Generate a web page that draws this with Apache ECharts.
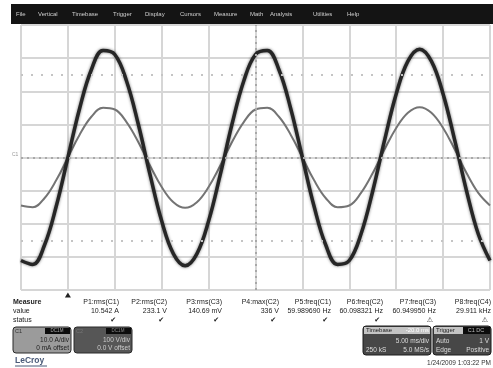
<!DOCTYPE html>
<html>
<head>
<meta charset="utf-8">
<script src="https://cdn.jsdelivr.net/npm/echarts@6/dist/echarts.min.js"></script>
<style>
  html, body { margin: 0; padding: 0; background: #fff; }
  #scope { width: 493px; height: 368px; }
</style>
</head>
<body>
<div id="scope"></div>
<script>
  // time samples (ms, 5 ms/div, trigger at 0)
  var timeMs = [-5, -3.75, -2.5, -1.25, 0, 1.25, 2.5, 3.75, 5, 6.25, 7.5, 8.75, 10, 11.25, 12.5, 13.75,
    15, 16.25, 17.5, 18.75, 20, 21.25, 22.5, 23.75, 25, 26.25, 27.5, 28.75, 30, 31.25, 32.5, 33.75,
    35, 36.25, 37.5, 38.75, 40, 41.25, 42.5, 43.75, 45]
  // trace values, in divisions
  var traceBig = [-3.11, -3.23, -2.65, -1.48, 0, 1.48, 2.65, 3.23, 3.11, 2.31, 1.01, -0.51, -1.92, -2.91, -3.27, -2.91,
    -1.92, -0.51, 1.01, 2.31, 3.11, 3.23, 2.65, 1.48, 0, -1.48, -2.65, -3.23, -3.11, -2.31, -1.01, 0.51,
    1.92, 2.91, 3.27, 2.91, 1.92, 0.51, -1.01, -2.31, -3.11]
  var traceSmall = [-1.45, -1.50, -1.23, -0.69, 0, 0.69, 1.23, 1.50, 1.45, 1.07, 0.47, -0.24, -0.89, -1.35, -1.52, -1.35,
    -0.89, -0.24, 0.47, 1.07, 1.45, 1.50, 1.23, 0.69, 0, -0.69, -1.23, -1.50, -1.45, -1.07, -0.47, 0.24,
    0.89, 1.35, 1.52, 1.35, 0.89, 0.24, -0.47, -1.07, -1.45]

  var menuItems = ['File', 'Vertical', 'Timebase', 'Trigger', 'Display', 'Cursors', 'Measure', 'Math', 'Analysis', 'Utilities', 'Help']
  var menuX = [16, 38, 72, 113, 145, 180, 214, 250, 270, 313, 347]

  var measureNames = ['P1:rms(C1)', 'P2:rms(C2)', 'P3:rms(C3)', 'P4:max(C2)', 'P5:freq(C1)', 'P6:freq(C2)', 'P7:freq(C3)', 'P8:freq(C4)']
  var measureValues = ['10.542 A', '233.1 V', '140.69 mV', '336 V', '59.989690 Hz', '60.098321 Hz', '60.949950 Hz', '29.911 kHz']
  var measureStatus = ['✔', '✔', '✔', '✔', '✔', '✔', '⚠', '⚠']
  var measureRight = [119, 167, 222, 279, 331, 383, 436, 491]

  var FONT = 'Liberation Sans, Arial, sans-serif'

  function txt(x, y, s, opt) {
    opt = opt || {}
    return {
      type: 'text', x: x, y: y, silent: true,
      style: {
        text: s,
        fill: opt.fill || '#222',
        font: (opt.bold ? 'bold ' : '') + (opt.size || 7) + 'px ' + (opt.family || FONT),
        textAlign: opt.align || 'left',
        textVerticalAlign: 'middle'
      }
    }
  }
  function box(x, y, w, h, fill, stroke, r) {
    return {
      type: 'rect', silent: true,
      shape: { x: x, y: y, width: w, height: h, r: r || 0 },
      style: { fill: fill, stroke: stroke || null, lineWidth: stroke ? 1 : 0 }
    }
  }

  var graphics = []
  // menu bar
  graphics.push(box(11, 4, 482, 20, '#141414'))
  menuItems.forEach(function (m, i) {
    graphics.push(txt(menuX[i], 14, m, { fill: '#cfcfcf', size: 6 }))
  })
  // channel marker on the left
  graphics.push(txt(12, 155, 'C1', { fill: '#999', size: 5 }))

  // measure table
  graphics.push(txt(13, 302, 'Measure', { bold: true, size: 7 }))
  graphics.push(txt(13, 311, 'value', { size: 7 }))
  graphics.push(txt(13, 320, 'status', { size: 7 }))
  measureNames.forEach(function (n, i) {
    var r = measureRight[i]
    graphics.push(txt(r, 302, n, { align: 'right', size: 7 }))
    graphics.push(txt(r, 311, measureValues[i], { align: 'right', size: 7 }))
    graphics.push(txt(r - 3, 320, measureStatus[i], { align: 'right', size: 7, family: 'DejaVu Sans' }))
  })

  // channel descriptors
  graphics.push(box(13, 327, 58, 26, '#9b9b9b', '#2a2a2a', 3))
  graphics.push(box(45, 328, 25, 6, '#0c0c0c'))
  graphics.push(txt(15, 331, 'C1', { size: 5.5, fill: '#333' }))
  graphics.push(txt(57, 331, 'DC1M', { size: 4.5, fill: '#aaa', align: 'center' }))
  graphics.push(txt(69, 340, '10.0 A/div', { size: 6.5, align: 'right', fill: '#222' }))
  graphics.push(txt(69, 348, '0 mA offset', { size: 6.5, align: 'right', fill: '#222' }))

  graphics.push(box(74, 327, 58, 26, '#565656', '#2a2a2a', 3))
  graphics.push(box(106, 328, 25, 6, '#0c0c0c'))
  graphics.push(txt(76, 331, 'C2', { size: 5.5, fill: '#777' }))
  graphics.push(txt(118, 331, 'DC1M', { size: 4.5, fill: '#888', align: 'center' }))
  graphics.push(txt(130, 340, '100 V/div', { size: 6.5, align: 'right', fill: '#ccc' }))
  graphics.push(txt(130, 348, '0.0 V offset', { size: 6.5, align: 'right', fill: '#ccc' }))

  // timebase / trigger
  graphics.push(box(363, 326, 68, 29, '#474747', '#1c1c1c', 3))
  graphics.push(box(364, 327, 66, 7, '#c4c4c4'))
  graphics.push(txt(366, 330.5, 'Timebase', { size: 6, fill: '#222' }))
  graphics.push(txt(429, 330.5, '-20.0 ms', { size: 6, fill: '#fff', align: 'right' }))
  graphics.push(txt(429, 341, '5.00 ms/div', { size: 6.5, fill: '#ddd', align: 'right' }))
  graphics.push(txt(366, 350, '250 kS', { size: 6.5, fill: '#ddd' }))
  graphics.push(txt(429, 350, '5.0 MS/s', { size: 6.5, fill: '#ddd', align: 'right' }))

  graphics.push(box(433, 326, 58, 29, '#474747', '#1c1c1c', 3))
  graphics.push(box(434, 327, 56, 7, '#c4c4c4'))
  graphics.push(box(463, 327, 27, 7, '#0c0c0c'))
  graphics.push(txt(436, 330.5, 'Trigger', { size: 6, fill: '#222' }))
  graphics.push(txt(476, 330.5, 'C1 DC', { size: 5.5, fill: '#bbb', align: 'center' }))
  graphics.push(txt(436, 341, 'Auto', { size: 6.5, fill: '#ddd' }))
  graphics.push(txt(489, 341, '1 V', { size: 6.5, fill: '#ddd', align: 'right' }))
  graphics.push(txt(436, 350, 'Edge', { size: 6.5, fill: '#ddd' }))
  graphics.push(txt(489, 350, 'Positive', { size: 6.5, fill: '#ddd', align: 'right' }))

  graphics.push(txt(491, 363, '1/24/2009 1:03:22 PM', { size: 6.5, align: 'right', fill: '#333' }))

  // logo
  graphics.push(txt(15, 361, 'LeCroy', { size: 8.5, fill: '#4a5a78', bold: true }))
  graphics.push({ type: 'line', silent: true, shape: { x1: 15, y1: 366, x2: 47, y2: 366 }, style: { stroke: '#4a5a78', lineWidth: 1 } })

  var chart = echarts.init(document.getElementById('scope'))
  chart.setOption({
    animation: false,
    backgroundColor: '#fff',
    grid: { left: 21, top: 25, width: 469, height: 265, containLabel: false },
    xAxis: {
      type: 'value', min: -5, max: 45, interval: 5,
      axisLine: { show: false }, axisTick: { show: false }, axisLabel: { show: false },
      splitLine: { show: true, lineStyle: { color: '#d6d6d6', width: 2 } }
    },
    yAxis: {
      type: 'value', min: -4, max: 4, interval: 1,
      axisLine: { show: false }, axisTick: { show: false }, axisLabel: { show: false },
      splitLine: { show: true, lineStyle: { color: '#d6d6d6', width: 2 } }
    },
    graphic: graphics,
    series: [
      {
        type: 'line',
        name: 'C2',
        data: timeMs.map(function (t, i) { return [t, traceSmall[i]] }),
        smooth: 0.4,
        showSymbol: false,
        lineStyle: { color: '#747474', width: 2 },
        z: 3,
        markLine: {
          silent: true, symbol: 'none', label: { show: false },
          lineStyle: { color: '#a8a8a8', type: [2, 4], width: 2 },
          data: [{ xAxis: 20 }, { yAxis: 0 }]
        }
      },
      {
        type: 'line',
        name: 'C1',
        data: timeMs.map(function (t, i) { return [t, traceBig[i]] }),
        smooth: 0.4,
        showSymbol: false,
        lineStyle: { color: '#262626', width: 3.5, shadowBlur: 3, shadowColor: 'rgba(0,0,0,0.55)' },
        z: 4,
        markLine: {
          silent: true, symbol: 'none', label: { show: false },
          lineStyle: { color: '#c4c4c4', type: [2, 8], width: 2 },
          data: [{ yAxis: 2.5 }, { yAxis: -2.5 }]
        },
        markPoint: {
          silent: true,
          symbol: 'triangle', symbolSize: [6, 5], symbolOffset: [0, 5],
          itemStyle: { color: '#222' },
          label: { show: false },
          data: [{ coord: [0, -4] }]
        }
      }
    ]
  })
</script>
</body>
</html>
